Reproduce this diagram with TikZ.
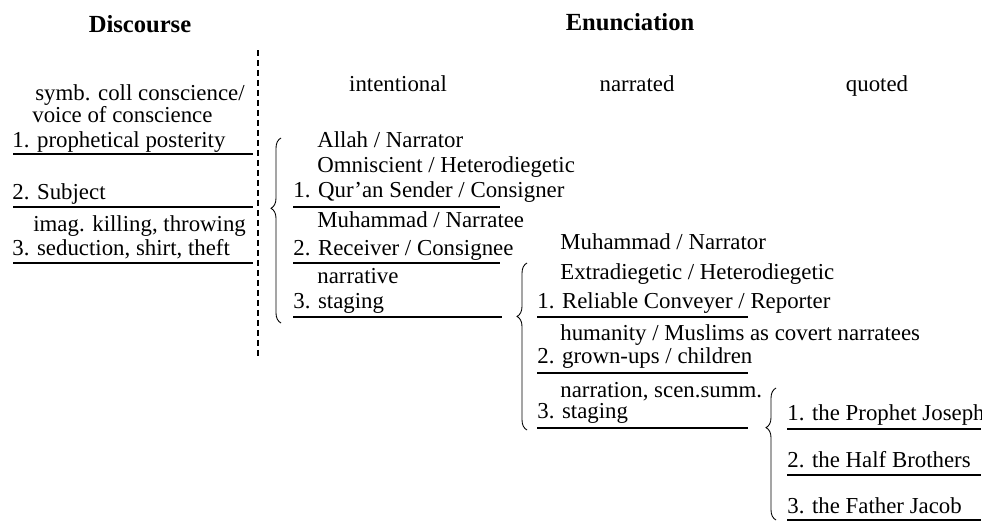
\documentclass[tikz,border=0pt]{standalone}
\usepackage{fontspec}
\setmainfont{Liberation Serif}
\usetikzlibrary{positioning}
\usetikzlibrary{decorations.pathreplacing}

\begin{document}
\begin{tikzpicture}[x=0.02cm, y=-0.02cm,
    every node/.style={inner sep=0pt, font=\fontsize{13}{15}\selectfont},
    column_head/.style={anchor=base, font=\fontsize{14}{16}\selectfont\bfseries},
    level/.style={anchor=base},
    entry/.style={anchor=base west},
    rule_line/.style={line width=0.6pt},
    divider/.style={line width=0.6pt, dash pattern=on 0.12cm off 0.08cm},
    brace_line/.style={line width=0.5pt, decorate, decoration={brace, amplitude=0.2cm, aspect=#1}},
]
\useasboundingbox (0,0) rectangle (982,521);

\node[column_head] (discourse) at (140,32) {Discourse};
\node[column_head] (enunciation) at (630,30) {Enunciation};

\node[level] (intentional) at (398,91) {intentional};
\node[level] (narrated) at (637,91) {narrated};
\node[level] (quoted) at (877,91) {quoted};

% discourse
\node[entry] (conscience) at (35,100) {symb. coll conscience/};
\node[entry] (voice) at (32,122) {voice of conscience};
\node[entry] (posterity) at (12,147) {1. prophetical posterity};
\node[entry] (subject) at (12,199) {2. Subject};
\node[entry] (killing) at (33,231) {imag. killing, throwing};
\node[entry] (seduction) at (12,255) {3. seduction, shirt, theft};

\coordinate (posterity_l) at (13,154);
\coordinate (posterity_r) at (253,154);
\coordinate (subject_l) at (13,207);
\coordinate (subject_r) at (253,207);
\coordinate (seduction_l) at (13,263);
\coordinate (seduction_r) at (253,263);

\draw[rule_line] (posterity_l) -- (posterity_r);
\draw[rule_line] (subject_l) -- (subject_r);
\draw[rule_line] (seduction_l) -- (seduction_r);

\coordinate (divider_top) at (258,50);
\coordinate (divider_bottom) at (258,357);
\draw[divider] (divider_top) -- (divider_bottom);

% intentional
\node[entry] (allah) at (317,147) {Allah / Narrator};
\node[entry] (omniscient) at (317,172) {Omniscient / Heterodiegetic};
\node[entry] (sender) at (293,197) {1. Qur'an Sender / Consigner};
\node[entry] (narratee) at (317,227) {Muhammad / Narratee};
\node[entry] (receiver) at (293,255) {2. Receiver / Consignee};
\node[entry] (narrative) at (317,283) {narrative};
\node[entry] (staging_i) at (293,308) {3. staging};

\coordinate (sender_l) at (293,207);
\coordinate (sender_r) at (500,207);
\coordinate (receiver_l) at (293,263);
\coordinate (receiver_r) at (500,263);
\coordinate (staging_i_l) at (293,317);
\coordinate (staging_i_r) at (502,317);

\draw[rule_line] (sender_l) -- (sender_r);
\draw[rule_line] (receiver_l) -- (receiver_r);
\draw[rule_line] (staging_i_l) -- (staging_i_r);

% narrated
\node[entry] (narrator) at (560,249) {Muhammad / Narrator};
\node[entry] (extradiegetic) at (560,279) {Extradiegetic / Heterodiegetic};
\node[entry] (conveyer) at (537,308) {1. Reliable Conveyer / Reporter};
\node[entry] (humanity) at (560,340) {humanity / Muslims as covert narratees};
\node[entry] (grownups) at (537,363) {2. grown-ups / children};
\node[entry] (narration) at (560,397) {narration, scen.summ.};
\node[entry] (staging_n) at (537,418) {3. staging};

\coordinate (conveyer_l) at (537,317);
\coordinate (conveyer_r) at (748,317);
\coordinate (grownups_l) at (537,373);
\coordinate (grownups_r) at (748,373);
\coordinate (staging_n_l) at (537,428);
\coordinate (staging_n_r) at (748,428);

\draw[rule_line] (conveyer_l) -- (conveyer_r);
\draw[rule_line] (grownups_l) -- (grownups_r);
\draw[rule_line] (staging_n_l) -- (staging_n_r);

% quoted
\node[entry] (joseph) at (787,420) {1. the Prophet Joseph};
\node[entry] (brothers) at (787,467) {2. the Half Brothers};
\node[entry] (jacob) at (787,513) {3. the Father Jacob};

\coordinate (joseph_l) at (787,429);
\coordinate (joseph_r) at (981,429);
\coordinate (brothers_l) at (787,475);
\coordinate (brothers_r) at (981,475);
\coordinate (jacob_l) at (787,520);
\coordinate (jacob_r) at (981,520);

\draw[rule_line] (joseph_l) -- (joseph_r);
\draw[rule_line] (brothers_l) -- (brothers_r);
\draw[rule_line] (jacob_l) -- (jacob_r);

% braces
\coordinate (brace_i_bottom) at (281,323);
\coordinate (brace_i_top) at (281,138);
\coordinate (brace_n_bottom) at (527,430);
\coordinate (brace_n_top) at (527,263);
\coordinate (brace_q_bottom) at (776,520);
\coordinate (brace_q_top) at (776,388);

\draw[brace_line=0.62] (brace_i_bottom) -- (brace_i_top);
\draw[brace_line=0.68] (brace_n_bottom) -- (brace_n_top);
\draw[brace_line=0.70] (brace_q_bottom) -- (brace_q_top);

\end{tikzpicture}
\end{document}
